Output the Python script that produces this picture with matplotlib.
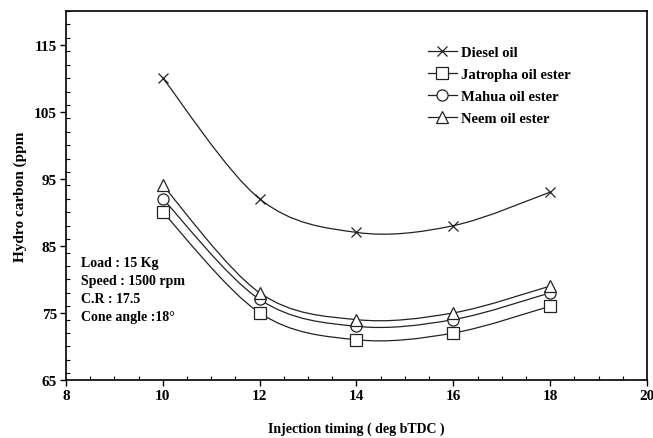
import matplotlib.pyplot as plt
from matplotlib.path import Path
from matplotlib.patches import PathPatch
from matplotlib.lines import Line2D
from matplotlib.ticker import MultipleLocator
import numpy as np

plt.rcParams['font.family'] = ['Liberation Serif', 'DejaVu Serif']
plt.rcParams['font.weight'] = 'bold'

timing = [10, 12, 14, 16, 18]
diesel = [110, 92, 87, 88, 93]
jatropha = [90, 75, 71, 72, 76]
mahua = [92, 77, 73, 74, 78]
neem = [94, 78, 74, 75, 79]

series = [
	("Diesel oil", diesel, 'x'),
	("Jatropha oil ester", jatropha, 's'),
	("Mahua oil ester", mahua, 'o'),
	("Neem oil ester", neem, '^'),
]

def smooth_path(x, y, k=1/6.0):
	# catmull-rom through the points, as cubic bezier segments
	x = np.asarray(x, float)
	y = np.asarray(y, float)
	px = np.concatenate([[x[0]], x, [x[-1]]])
	py = np.concatenate([[y[0]], y, [y[-1]]])
	verts = [(x[0], y[0])]
	codes = [Path.MOVETO]
	for i in range(1, len(px)-2):
		c1 = (px[i]+(px[i+1]-px[i-1])*k, py[i]+(py[i+1]-py[i-1])*k)
		c2 = (px[i+1]-(px[i+2]-px[i])*k, py[i+1]-(py[i+2]-py[i])*k)
		verts += [c1, c2, (px[i+1], py[i+1])]
		codes += [Path.CURVE4]*3
	return Path(verts, codes)

fig=plt.figure(figsize=(6.53,4.39), dpi=100)
ax=fig.add_axes([66/653, 1-381/439, (647-66)/653, (381-12)/439])

handles=[]
for name, vals, m in series:
	ax.add_patch(PathPatch(smooth_path(timing, vals), fill=False, edgecolor='#222222', lw=0.9))
	ms = 7 if m=='x' else 8
	ax.plot(timing, vals, linestyle='none', marker=m, ms=ms,
		mfc='white', mec='#222222', mew=0.9, zorder=3)
	handles.append(Line2D([], [], color='#222222', lw=0.9, marker=m, ms=ms,
		mfc='white', mec='#222222', mew=0.9))

ax.set_xlim(8, 20)
ax.set_ylim(65, 120)
ax.set_xticks([8, 10, 12, 14, 16, 18, 20])
ax.set_yticks([65, 75, 85, 95, 105, 115])
ax.xaxis.set_minor_locator(MultipleLocator(0.5))
ax.yaxis.set_minor_locator(MultipleLocator(2))
ax.tick_params(which='major', direction='out', length=4, width=1, labelsize=11, pad=2.5)
ax.tick_params(which='minor', direction='in', length=3, width=0.8)
for s in ax.spines.values():
	s.set_linewidth(1.2)

ax.set_xlabel('Injection timing ( deg bTDC )', fontsize=10, fontweight='bold', labelpad=14)
ax.set_ylabel('Hydro carbon (ppm', fontsize=11, fontweight='bold', labelpad=5)

ax.legend(handles, [s[0] for s in series], loc='upper left', bbox_to_anchor=(0.6, 0.94),
	frameon=False, handlelength=2.0, handletextpad=0.3, labelspacing=0.6,
	prop={'weight': 'bold', 'size': 10.5})

ax.text(0.025, 0.335, 'Load : 15 Kg\nSpeed : 1500 rpm\nC.R : 17.5\nCone angle :18°',
	transform=ax.transAxes, fontsize=10, fontweight='bold', va='top', linespacing=1.5)

plt.savefig("out.png", dpi=100)
